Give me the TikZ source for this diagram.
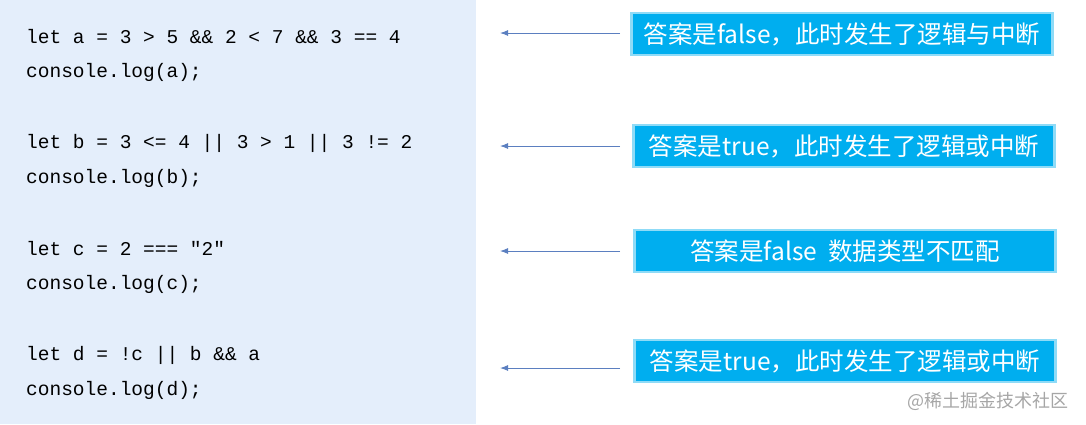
\documentclass[tikz,border=0pt]{standalone}
\usepackage{fontspec}
\setmonofont{Liberation Mono}
\newfontfamily\cjk{Noto Sans CJK SC}
\usetikzlibrary{positioning,arrows.meta}
\definecolor{panelbg}{HTML}{E4EEFB}
\definecolor{boxfill}{HTML}{00AEEF}
\definecolor{boxglow}{HTML}{8FDBF7}
\definecolor{arrowcol}{HTML}{5B7FC0}
\tikzset{
  code/.style={anchor=west,inner sep=0,font=\ttfamily\fontsize{19.5}{19.5}\selectfont},
  answer/.style={fill=boxfill,draw=boxglow,line width=2.5pt,text=white,
    minimum width=421pt,minimum height=42pt,inner sep=0,
    font=\cjk\fontsize{24.5}{24.5}\selectfont},
  pointer/.style={draw=arrowcol,line width=1pt,-{Latex[length=8pt,width=6pt]}}
}
\begin{document}
\begin{tikzpicture}[x=1pt,y=-1pt]
  \useasboundingbox (0,0) rectangle (1086,424);
  \fill[panelbg] (0,0) rectangle (476,424);

  % code lines
  \node[code] (a1) at (26,37) {let a = 3 > 5 \&\& 2 < 7 \&\& 3 == 4};
  \node[code] (a2) at (26,72) {console.log(a);};
  \node[code] (b1) at (26,143) {let b = 3 <= 4 || 3 > 1 || 3 != 2};
  \node[code] (b2) at (26,178) {console.log(b);};
  \node[code] (c1) at (26,249) {let c = 2 === "2"};
  \node[code] (c2) at (26,284) {console.log(c);};
  \node[code] (d1) at (26,355) {let d = !c || b \&\& a};
  \node[code] (d2) at (26,390) {console.log(d);};

  % answers
  \node[answer] (ansa) at (842,34) {答案是false，此时发生了逻辑与中断};
  \node[answer] (ansb) at (844,146) {答案是true，此时发生了逻辑或中断};
  \node[answer] (ansc) at (845,251) {答案是false\ \ 数据类型不匹配};
  \node[answer] (ansd) at (845,361) {答案是true，此时发生了逻辑或中断};

  \coordinate (pa) at (500,33);
  \coordinate (pb) at (500,146);
  \coordinate (pc) at (500,251);
  \coordinate (pd) at (500,368);
  \draw[pointer] (620,33) -- (pa);
  \draw[pointer] (620,146) -- (pb);
  \draw[pointer] (620,251) -- (pc);
  \draw[pointer] (620,368) -- (pd);

  \node[anchor=east,text=gray!70,font=\cjk\fontsize{18}{18}\selectfont] (mark) at (1072,401) {@稀土掘金技术社区};
\end{tikzpicture}
\end{document}
